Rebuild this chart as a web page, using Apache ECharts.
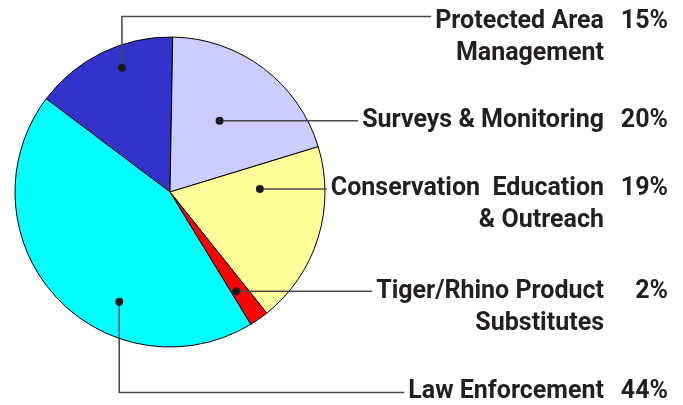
<!DOCTYPE html>
<html>
<head>
<meta charset="utf-8">
<script src="https://cdn.jsdelivr.net/npm/echarts@6/dist/echarts.min.js"></script>
<style>
html,body{margin:0;padding:0;background:#fff;}
#chart{width:683px;height:405px;}
</style>
</head>
<body>
<div id="chart"></div>
<script>
// ---- data ----
const categories = ['Protected Area Management', 'Surveys & Monitoring', 'Conservation Education & Outreach', 'Tiger/Rhino Product Substitutes', 'Law Enforcement'];
const labelLines = [['Protected Area', 'Management'], ['Surveys & Monitoring'], ['Conservation  Education', '& Outreach'], ['Tiger/Rhino Product', 'Substitutes'], ['Law Enforcement']];
const values = [15, 20, 19, 2, 44];
const colors = ['#3333CC', '#CCCCFF', '#FFFF99', '#FF0000', '#00FFFF'];

// ---- layout / style ----
const CX = 170, CY = 192, R = 155, START = 143;
const FONT = 'Roboto, "Liberation Sans", sans-serif';
const FS = 25, LH = 32;
const RIGHT = 668, PCT_W = 64;
const TEXT_COLOR = '#231f20', LINE_COLOR = '#4a4a4a';
// anchor of each leader dot: fraction across slice, fraction of radius, leader type, y for elbow leaders
const anchors = [
  {f: 0.59, rf: 0.86, type: 'up', lineY: 16.5, textY: 22},
  {f: 0.47, rf: 0.56, type: 'h'},
  {f: 0.22, rf: 0.58, type: 'h'},
  {f: 0.68, rf: 0.77, type: 'h'},
  {f: 0.355, rf: 0.78, type: 'down', lineY: 392.5, textY: 391.5}
];

const total = values.reduce((a, b) => a + b, 0);
function anchorPoint(i) {
  let cum = 0;
  for (let k = 0; k < i; k++) cum += values[k];
  const a = anchors[i];
  const ang = (START - (cum + a.f * values[i]) / total * 360) * Math.PI / 180;
  return [CX + a.rf * R * Math.cos(ang), CY - a.rf * R * Math.sin(ang)];
}
const ctx = document.createElement('canvas').getContext('2d');
ctx.font = 'bold ' + FS + 'px ' + FONT;
function textW(s) { return ctx.measureText(s).width; }

const dots = values.map((v, i) => anchorPoint(i));
const leaders = values.map((v, i) => {
  const a = anchors[i], d = dots[i];
  const endX = RIGHT - PCT_W - textW(labelLines[i][0]) - 4;
  if (a.type === 'h') return {pts: [[d[0], d[1]], [endX, d[1]]], firstY: d[1]};
  return {pts: [[d[0], d[1]], [d[0], a.lineY], [endX, a.lineY]], firstY: a.textY};
});

const chart = echarts.init(document.getElementById('chart'), null, {renderer: 'canvas'});
const option = {
  animation: false,
  series: [{
    type: 'pie',
    center: [CX, CY],
    radius: R,
    startAngle: START,
    clockwise: true,
    avoidLabelOverlap: false,
    silent: true,
    itemStyle: {borderColor: '#000', borderWidth: 1},
    data: categories.map((c, i) => ({name: c, value: values[i], itemStyle: {color: colors[i]}})),
    label: {
      show: true,
      position: 'outside',
      formatter: function (p) {
        const lines = labelLines[p.dataIndex];
        return lines.map((l, j) => '{n|' + l + '}{p|' + (j === 0 ? p.value + '%' : ' ') + '}').join('\n');
      },
      rich: {
        n: {fontFamily: FONT, fontWeight: 'bold', fontSize: FS, color: TEXT_COLOR, width: 330, align: 'right', lineHeight: LH},
        p: {fontFamily: FONT, fontWeight: 'bold', fontSize: FS, color: TEXT_COLOR, width: PCT_W, align: 'right', lineHeight: LH}
      }
    },
    labelLine: {show: false},
    labelLayout: function (params) {
      const i = params.dataIndex;
      return {x: RIGHT, y: leaders[i].firstY - LH / 2, align: 'right', verticalAlign: 'top'};
    }
  }],
  graphic: leaders.map(l => ({type: 'polyline', shape: {points: l.pts}, style: {stroke: LINE_COLOR, lineWidth: 1.6, fill: null}, z: 100, silent: true}))
    .concat(dots.map(d => ({type: 'circle', shape: {cx: d[0], cy: d[1], r: 4}, style: {fill: '#1a1a1a'}, z: 101, silent: true})))
};
chart.setOption(option);
</script>
</body>
</html>
